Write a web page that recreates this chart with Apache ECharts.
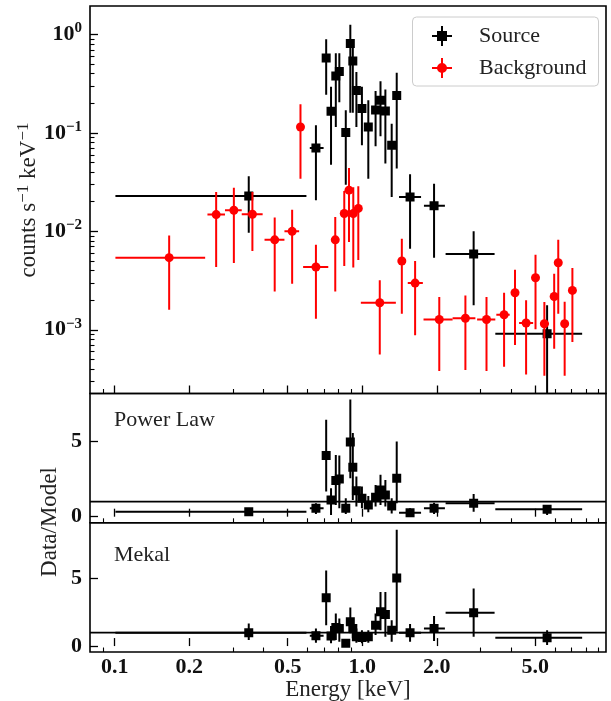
<!DOCTYPE html>
<html><head><meta charset="utf-8">
<script src="https://cdn.jsdelivr.net/npm/echarts@6/dist/echarts.min.js"></script>
<style>html,body{margin:0;padding:0;background:#fff}#c{width:611px;height:701px}</style>
</head><body><div id="c"></div>
<script>
// ---- axes ----
const xMin = 0.0795, xMax = 9.65;
const xMajorTicks = [0.1, 0.2, 0.5, 1.0, 2.0, 5.0];
const xTickLabels = ['0.1', '0.2', '0.5', '1.0', '2.0', '5.0'];
const xMinorTicks = [0.09, 0.3, 0.4, 0.6, 0.7, 0.8, 0.9, 3, 4, 6, 7, 8, 9];
const rateMin = 2.25e-4, rateMax = 1.95;
const rateMajorTicks = [0.001, 0.01, 0.1, 1];
const rateMinorTicks = [3e-4, 4e-4, 5e-4, 6e-4, 7e-4, 8e-4, 9e-4,
  2e-3, 3e-3, 4e-3, 5e-3, 6e-3, 7e-3, 8e-3, 9e-3,
  2e-2, 3e-2, 4e-2, 5e-2, 6e-2, 7e-2, 8e-2, 9e-2,
  0.2, 0.3, 0.4, 0.5, 0.6, 0.7, 0.8, 0.9];
const ratioTicks = [0, 5];
const plRange = [-0.405, 8.18];
const mkRange = [-0.44, 9.13];

// ---- source spectrum ----
const srcE    = [0.348, 0.650, 0.715, 0.748, 0.782, 0.808, 0.858, 0.895, 0.916, 0.947, 0.997, 1.058, 1.132, 1.185, 1.240, 1.315, 1.378, 1.560, 1.950, 2.818, 5.58];
const srcElo  = [0.1007, 0.614, 0.715, 0.748, 0.782, 0.808, 0.858, 0.895, 0.916, 0.947, 0.997, 1.058, 1.132, 1.185, 1.240, 1.283, 1.378, 1.408, 1.775, 2.171, 3.447];
const srcEhi  = [0.595, 0.698, 0.715, 0.748, 0.782, 0.808, 0.858, 0.895, 0.916, 0.947, 0.997, 1.058, 1.132, 1.185, 1.240, 1.350, 1.378, 1.728, 2.157, 3.424, 7.73];
const srcRate   = [0.0229, 0.0705, 0.579, 0.166, 0.38, 0.42, 0.101, 0.81, 0.537, 0.27, 0.177, 0.115, 0.171, 0.215, 0.167, 0.075, 0.24, 0.0224, 0.0182, 0.0059, 0.00091];
const srcRateLo = [0.0097, 0.0207, 0.245, 0.0476, 0.115, 0.205, 0.0298, 0.160, 0.16, 0.115, 0.075, 0.0343, 0.0731, 0.0925, 0.0488, 0.0223, 0.0434, 0.00667, 0.0054, 0.00177, 1e-6];
const srcRateHi = [0.0362, 0.1197, 0.896, 0.294, 0.646, 0.646, 0.170, 1.26, 0.87, 0.417, 0.294, 0.215, 0.267, 0.335, 0.276, 0.124, 0.408, 0.038, 0.0305, 0.010, 0.00177];

// ---- background spectrum ----
const bkgE    = [0.166, 0.257, 0.303, 0.360, 0.443, 0.521, 0.563, 0.650, 0.778, 0.846, 0.884, 0.920, 0.964, 1.177, 1.445, 1.635, 2.047, 2.61, 3.176, 3.74, 4.14, 4.59, 5.01, 5.44, 5.96, 6.19, 6.57, 7.06];
const bkgElo  = [0.1007, 0.237, 0.279, 0.326, 0.403, 0.485, 0.563, 0.577, 0.762, 0.846, 0.884, 0.920, 0.964, 0.987, 1.42, 1.527, 1.768, 2.317, 2.91, 3.48, 4.14, 4.30, 5.01, 5.23, 5.96, 6.19, 6.57, 7.06];
const bkgEhi  = [0.232, 0.279, 0.326, 0.396, 0.485, 0.556, 0.563, 0.729, 0.795, 0.846, 0.884, 0.920, 0.964, 1.367, 1.47, 1.757, 2.317, 2.864, 3.447, 3.94, 4.14, 4.90, 5.01, 5.68, 5.96, 6.19, 6.57, 7.06];
const bkgRate   = [0.0054, 0.0148, 0.0164, 0.0149, 0.0082, 0.0100, 0.115, 0.00434, 0.0082, 0.0152, 0.0262, 0.0152, 0.0171, 0.00188, 0.0050, 0.00298, 0.00127, 0.00131, 0.00127, 0.00142, 0.00238, 0.00117, 0.00338, 0.00115, 0.00218, 0.0048, 0.00115, 0.00251];
const bkgRateLo = [0.0016, 0.00434, 0.00476, 0.0063, 0.00245, 0.00294, 0.0343, 0.00129, 0.00245, 0.00444, 0.0078, 0.0043, 0.0051, 0.00056, 0.00145, 0.00088, 0.00038, 0.00039, 0.00038, 0.00042, 0.0007, 0.00035, 0.00101, 0.00034, 0.00064, 0.00145, 0.00034, 0.00075];
const bkgRateHi = [0.0091, 0.0251, 0.0278, 0.0251, 0.0138, 0.0166, 0.196, 0.0073, 0.014, 0.0257, 0.0441, 0.028, 0.0287, 0.00318, 0.0084, 0.0050, 0.00215, 0.00223, 0.00215, 0.00238, 0.00407, 0.00199, 0.0058, 0.00191, 0.0037, 0.0082, 0.00193, 0.00424];

// ---- Data/Model ratios ----
const plRatio = [0.33, 0.56, 4.07, 1.11, 2.40, 2.51, 0.56, 4.96, 3.29, 1.73, 1.22, 0.78, 1.29, 1.78, 1.44, 0.71, 2.56, 0.27, 0.56, 0.89, 0.49];
const plLo    = [0.20, 0.18, 1.67, 0.11, 0.78, 0.56, 0.18, 2.56, 1.11, 0.67, 0.56, 0.29, 0.67, 0.78, 0.67, 0.22, 0.89, 0.11, 0.18, 0.33, 0.11];
const plHi    = [0.48, 0.89, 6.44, 1.89, 4.10, 4.07, 1.22, 7.78, 5.56, 2.67, 2.00, 1.38, 2.10, 2.78, 2.44, 1.22, 5.00, 0.56, 0.93, 1.51, 0.78];
const mkRatio = [0.99, 0.76, 3.57, 0.74, 1.38, 1.30, 0.20, 1.80, 1.30, 0.69, 0.64, 0.69, 1.55, 2.54, 2.34, 1.18, 5.05, 0.99, 1.30, 2.46, 0.62];
const mkLo    = [0.44, 0.25, 1.55, 0.20, 0.44, 0.32, 0.07, 0.94, 0.57, 0.25, 0.20, 0.25, 0.81, 1.18, 0.69, 0.32, 1.06, 0.32, 0.37, 0.69, 0.07];
const mkHi    = [1.67, 1.30, 5.60, 1.48, 2.41, 2.04, 0.39, 2.86, 2.04, 1.30, 1.18, 1.18, 2.41, 4.01, 4.01, 1.92, 8.62, 1.63, 2.22, 4.26, 1.18];

const serif = '"Liberation Serif", "Times New Roman", serif';
const txt = '#111';

function rows(x, y, xlo, xhi, ylo, yhi) {
  return x.map((v, i) => [v, y[i], xlo[i], xhi[i], ylo[i], yhi[i]]);
}
function errRender(shape, size) {
  return function (params, api) {
    const x = api.value(0), y = api.value(1);
    const p = api.coord([x, y]);
    const pl = api.coord([api.value(2), y]);
    const ph = api.coord([api.value(3), y]);
    const pv1 = api.coord([x, api.value(4)]);
    const pv2 = api.coord([x, api.value(5)]);
    const color = api.visual('color');
    const lw = 2;
    const mark = shape === 'square'
      ? { type: 'rect', shape: { x: p[0] - size / 2, y: p[1] - size / 2, width: size, height: size }, style: { fill: color } }
      : { type: 'circle', shape: { cx: p[0], cy: p[1], r: size / 2 }, style: { fill: color } };
    return {
      type: 'group',
      children: [
        { type: 'line', shape: { x1: pl[0], y1: p[1], x2: ph[0], y2: p[1] }, style: { stroke: color, lineWidth: lw } },
        { type: 'line', shape: { x1: p[0], y1: pv1[1], x2: p[0], y2: pv2[1] }, style: { stroke: color, lineWidth: lw } },
        mark
      ]
    };
  };
}

const grids = [
  { left: 90, right: 5, top: 6, height: 387.5 },
  { left: 90, right: 5, top: 393.5, height: 129.3 },
  { left: 90, right: 5, top: 522.8, height: 129.2 }
].map(g => Object.assign(g, {
  show: true, borderColor: '#000', borderWidth: 1.6, backgroundColor: 'transparent',
  containLabel: false, outerBoundsMode: 'none'
}));

function xAxes(gi, withLabels) {
  const major = {
    type: 'log', gridIndex: gi, min: xMin, max: xMax, logBase: 10, position: 'bottom',
    axisLine: { show: false }, splitLine: { show: false },
    axisTick: { show: true, inside: true, length: 8, customValues: xMajorTicks, lineStyle: { color: '#000', width: 1.3 } },
    axisLabel: withLabels ? {
      show: true, customValues: xMajorTicks, margin: 4,
      formatter: v => xTickLabels[xMajorTicks.findIndex(t => Math.abs(t - v) < 1e-9)] || '',
      fontFamily: serif, fontWeight: 'bold', fontSize: 22, color: txt
    } : { show: false }
  };
  const minor = {
    type: 'log', gridIndex: gi, min: xMin, max: xMax, logBase: 10, position: 'bottom',
    axisLine: { show: false }, splitLine: { show: false },
    axisTick: { show: true, inside: true, length: 4.5, customValues: xMinorTicks, lineStyle: { color: '#000', width: 1.1 } },
    axisLabel: { show: false }
  };
  return [major, minor];
}

function supExp(v) {
  const e = Math.round(Math.log10(v));
  return '{b|10}{s|' + (e < 0 ? '\u2212' + (-e) : String(e)) + '}';
}

const option = {
  animation: false,
  backgroundColor: '#fff',
  grid: grids,
  xAxis: [].concat(xAxes(0, false), xAxes(1, false), xAxes(2, true)),
  yAxis: [
    {
      type: 'log', gridIndex: 0, min: rateMin, max: rateMax, logBase: 10, position: 'left',
      axisLine: { show: false }, splitLine: { show: false },
      axisTick: { show: true, inside: true, length: 8, customValues: rateMajorTicks, lineStyle: { color: '#000', width: 1.3 } },
      axisLabel: {
        show: true, customValues: rateMajorTicks, margin: 8, formatter: supExp, color: txt,
        rich: {
          b: { fontFamily: serif, fontWeight: 'bold', fontSize: 22, color: txt },
          s: { fontFamily: serif, fontWeight: 'bold', fontSize: 15, color: txt, padding: [0, 0, 12, 0] }
        }
      }
    },
    {
      type: 'log', gridIndex: 0, min: rateMin, max: rateMax, logBase: 10, position: 'left',
      axisLine: { show: false }, splitLine: { show: false },
      axisTick: { show: true, inside: true, length: 4.5, customValues: rateMinorTicks, lineStyle: { color: '#000', width: 1.1 } },
      axisLabel: { show: false }
    },
    {
      type: 'value', gridIndex: 1, min: plRange[0], max: plRange[1], position: 'left',
      axisLine: { show: false }, splitLine: { show: false },
      axisTick: { show: true, inside: true, length: 8, customValues: ratioTicks, lineStyle: { color: '#000', width: 1.3 } },
      axisLabel: { show: true, customValues: ratioTicks, margin: 8, fontFamily: serif, fontWeight: 'bold', fontSize: 22, color: txt }
    },
    {
      type: 'value', gridIndex: 2, min: mkRange[0], max: mkRange[1], position: 'left',
      axisLine: { show: false }, splitLine: { show: false },
      axisTick: { show: true, inside: true, length: 8, customValues: ratioTicks, lineStyle: { color: '#000', width: 1.3 } },
      axisLabel: { show: true, customValues: ratioTicks, margin: 8, fontFamily: serif, fontWeight: 'bold', fontSize: 22, color: txt }
    }
  ],
  legend: {
    orient: 'vertical', left: 412.5, top: 17,
    padding: [8, 12, 7, 19.5], itemGap: 10, itemWidth: 42, itemHeight: 20,
    backgroundColor: '#fff', borderColor: '#ccc', borderWidth: 1, borderRadius: 4,
    textStyle: { fontFamily: serif, fontSize: 22, color: '#222' },
    data: [
      { name: 'Source', icon: 'path://M0,9L20,9L20,11L0,11Z M9,0L11,0L11,20L9,20Z M5,5L15,5L15,15L5,15Z M41.9,10L42,10L42,10.1Z' },
      { name: 'Background', icon: 'path://M0,9L20,9L20,11L0,11Z M9,0L11,0L11,20L9,20Z M5,10A5,5 0 1 1 15,10A5,5 0 1 1 5,10Z M41.9,10L42,10L42,10.1Z' }
    ]
  },
  graphic: [
    { type: 'text', left: 114, top: 409, style: { text: 'Power Law', fontFamily: serif, fontSize: 22, fill: '#222' } },
    { type: 'text', left: 114, top: 544, style: { text: 'Mekal', fontFamily: serif, fontSize: 22, fill: '#222' } },
    { type: 'text', x: 50, y: 522, rotation: Math.PI / 2,
      style: { text: 'Data/Model', fontFamily: serif, fontSize: 23, fill: '#222', align: 'center', verticalAlign: 'middle' } },
    { type: 'text', x: 348, y: 690,
      style: { text: 'Energy [keV]', fontFamily: serif, fontSize: 23, fill: '#222', align: 'center', verticalAlign: 'middle' } },
    { type: 'text', x: 29, y: 200, rotation: Math.PI / 2,
      style: {
        text: '{a|counts s}{s|\u22121}{a| keV}{s|\u22121}', align: 'center', verticalAlign: 'middle',
        rich: {
          a: { fontFamily: serif, fontSize: 23, fill: '#222', color: '#222' },
          s: { fontFamily: serif, fontSize: 17, fill: '#222', color: '#222', padding: [0, 0, 11, 0] }
        }
      } }
  ],
  series: [
    {
      name: 'Source', type: 'custom', xAxisIndex: 0, yAxisIndex: 0, clip: true,
      itemStyle: { color: '#000' }, encode: { x: 0, y: 1 },
      renderItem: errRender('square', 9),
      data: rows(srcE, srcRate, srcElo, srcEhi, srcRateLo, srcRateHi), z: 3
    },
    {
      name: 'Background', type: 'custom', xAxisIndex: 0, yAxisIndex: 0, clip: true,
      itemStyle: { color: '#ff0000' }, encode: { x: 0, y: 1 },
      renderItem: errRender('circle', 9),
      data: rows(bkgE, bkgRate, bkgElo, bkgEhi, bkgRateLo, bkgRateHi), z: 4
    },
    {
      name: 'unity-pl', type: 'line', xAxisIndex: 2, yAxisIndex: 2, symbol: 'none',
      lineStyle: { color: '#000', width: 1.8 }, data: [[xMin, 1], [xMax, 1]], z: 2, silent: true
    },
    {
      name: 'Power Law', type: 'custom', xAxisIndex: 2, yAxisIndex: 2, clip: true,
      itemStyle: { color: '#000' }, encode: { x: 0, y: 1 },
      renderItem: errRender('square', 9),
      data: rows(srcE, plRatio, srcElo, srcEhi, plLo, plHi), z: 3
    },
    {
      name: 'unity-mk', type: 'line', xAxisIndex: 4, yAxisIndex: 3, symbol: 'none',
      lineStyle: { color: '#000', width: 1.8 }, data: [[xMin, 1], [xMax, 1]], z: 2, silent: true
    },
    {
      name: 'Mekal', type: 'custom', xAxisIndex: 4, yAxisIndex: 3, clip: true,
      itemStyle: { color: '#000' }, encode: { x: 0, y: 1 },
      renderItem: errRender('square', 9),
      data: rows(srcE, mkRatio, srcElo, srcEhi, mkLo, mkHi), z: 3
    }
  ]
};
const chart = echarts.init(document.getElementById('c'), null, { renderer: 'canvas' });
chart.setOption(option);
</script>
</body></html>
